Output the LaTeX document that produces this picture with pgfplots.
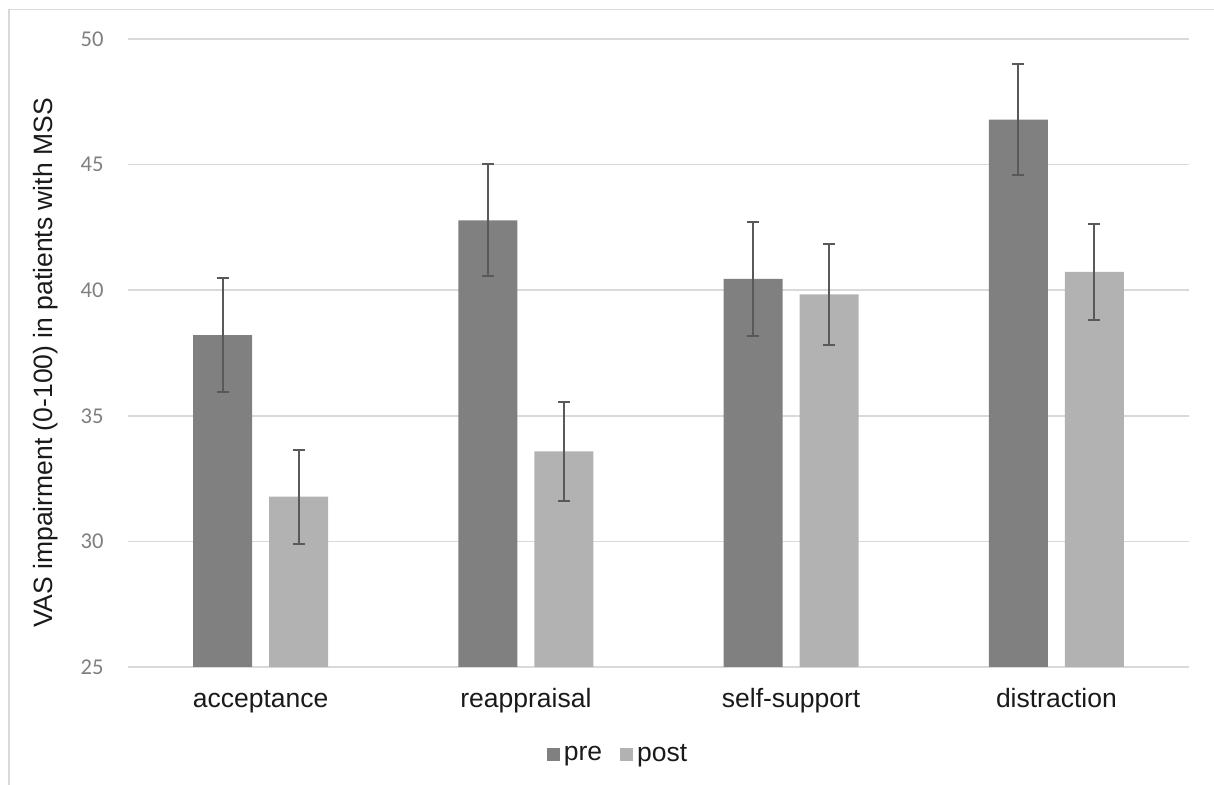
\documentclass[border=0pt]{standalone}
\usepackage{pgfplots}
\pgfplotsset{compat=1.18}
\usepackage{fontspec}
\setmainfont{Liberation Sans}
\newfontfamily\calibri{Carlito}
\definecolor{pre}{HTML}{808080}
\definecolor{post}{HTML}{B2B2B2}
\definecolor{gridc}{HTML}{D9D9D9}
\definecolor{errc}{HTML}{595959}
\definecolor{tickc}{HTML}{7F7F7F}
\definecolor{txt}{HTML}{1A1A1A}
\begin{document}
\begin{tikzpicture}
\useasboundingbox (0pt,0pt) rectangle (607pt,392.5pt);
\draw[gridc, line width=0.75pt] (4.5pt,0pt) -- (4.5pt,387.75pt) -- (607pt,387.75pt);
\begin{axis}[
  at={(64pt,59pt)}, anchor=south west,
  scale only axis, width=530.5pt, height=314pt,
  xmin=-0.5, xmax=3.5, ymin=25, ymax=50,
  ytick={25,30,35,40,45,50},
  yticklabels={25,30,35,40,45,50},
  xtick={0,1,2,3},
  xticklabels={acceptance,reappraisal,self-support,distraction},
  axis line style={draw=none},
  tick style={draw=none},
  ymajorgrids,
  major grid style={gridc, line width=0.75pt},
  yticklabel style={font=\calibri\fontsize{11.3}{13}\selectfont, text=tickc, anchor=east, inner sep=0pt, xshift=-12pt},
  xticklabel style={font=\fontsize{13.25}{15}\selectfont, text=txt, anchor=base, yshift=-20.5pt},
  ylabel={VAS impairment (0-100) in patients with MSS},
  ylabel style={at={(axis description cs:-0.0716,0.484)}, anchor=base, font=\fontsize{13.25}{15}\selectfont, text=txt},
  legend columns=2,
  legend style={at={(axis description cs:0.4628,-0.140)}, anchor=center, draw=none, fill=none,
    font=\fontsize{13.25}{15}\selectfont, text=txt,
    /tikz/every even column/.append style={column sep=7pt},
    nodes={inner sep=2pt}},
  legend image code/.code={\fill[#1] (0pt,-3.25pt) rectangle (6.5pt,3.25pt);},
]
\addplot[ybar, bar width=29.5pt, bar shift=0pt, fill=pre, draw=none,
  error bars/.cd, y dir=both, y explicit,
  error bar style={errc, line width=1pt},
  error mark options={rotate=90, mark size=3pt, errc, line width=1pt}]
  table[x=x, y=y, y error=e] {
x y e
-0.1433 38.21 2.26
0.8567 42.78 2.23
1.8567 40.45 2.26
2.8567 46.79 2.22
};
\addlegendentry{pre}
\addplot[ybar, bar width=29.5pt, bar shift=0pt, fill=post, draw=none,
  error bars/.cd, y dir=both, y explicit,
  error bar style={errc, line width=1pt},
  error mark options={rotate=90, mark size=3pt, errc, line width=1pt}]
  table[x=x, y=y, y error=e] {
x y e
0.1433 31.78 1.87
1.1433 33.58 1.98
2.1433 39.83 2.00
3.1433 40.73 1.90
};
\addlegendentry{post}
\end{axis}
\end{tikzpicture}
\end{document}
